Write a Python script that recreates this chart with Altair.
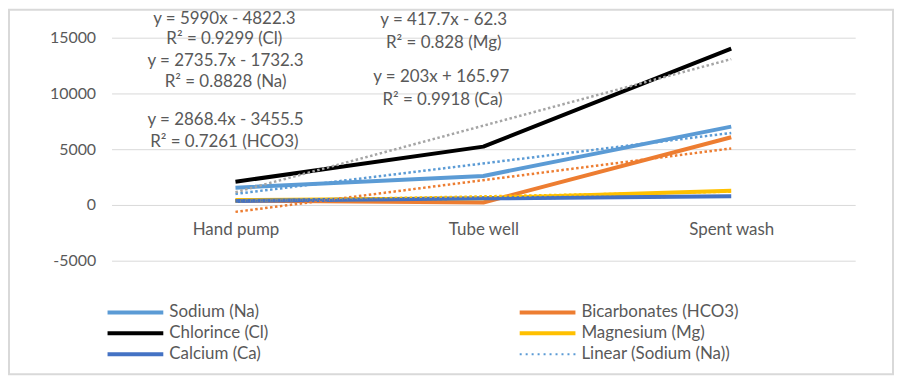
import json
import altair as alt
import pandas as pd

# ---------------- data ----------------
SITES = ["Hand pump", "Tube well", "Spent wash"]
SERIES = ["Sodium (Na)", "Bicarbonates (HCO3)", "Chlorince (Cl)", "Magnesium (Mg)", "Calcium (Ca)"]
SODIUM = [1550, 2600, 7020]
BICARBONATES = [380, 220, 6070]
CHLORINE = [2080, 5230, 14020]
MAGNESIUM = [440, 600, 1275]
CALCIUM = [360, 590, 770]

EQUATIONS = [
    "y = 5990x - 4822.3", "R² = 0.9299 (Cl)",
    "y = 2735.7x - 1732.3", "R² = 0.8828 (Na)",
    "y = 2868.4x - 3455.5", "R² = 0.7261 (HCO3)",
    "y = 417.7x - 62.3", "R² = 0.828 (Mg)",
    "y = 203x + 165.97", "R² = 0.9918 (Ca)",
]
EQ_X = [0.955, 0.955, 0.96, 0.96, 0.96, 0.955, 1.84, 1.84, 1.83, 1.835]
EQ_Y = [16700, 14870, 12880, 10980, 7600, 5650, 16600, 14550, 11450, 9450]

LEGEND = SERIES + ["Linear (Sodium (Na))"]

SERIES_COLORS = ["#5B9BD5", "#ED7D31", "#000000", "#FFC000", "#4472C4"]
TREND_COLORS = ["#5B9BD5", "#ED7D31", "#A5A5A5", "#FFC000", "#4472C4"]

TEXT = "#595959"
GRID = "#D9D9D9"
FONT = "Lato"

# ---------------- tables ----------------
values = [SODIUM, BICARBONATES, CHLORINE, MAGNESIUM, CALCIUM]
rows = []
for s, vals in zip(SERIES, values):
    for i, (site, v) in enumerate(zip(SITES, vals)):
        rows.append({"series": s, "site": site, "idx": i + 1, "value": v})
df = pd.DataFrame(rows)

eq_df = pd.DataFrame({"label": EQUATIONS, "ax": EQ_X, "ay": EQ_Y})
leg_df = pd.DataFrame({"name": LEGEND, "i": list(range(len(LEGEND)))})

trend_keys = ["Linear (" + s + ")" for s in SERIES]
color_scale = alt.Scale(domain=SERIES + trend_keys, range=SERIES_COLORS + TREND_COLORS)

x_scale = alt.Scale(domain=[0.5, 3.5], nice=False, zero=False)
y_scale = alt.Scale(domain=[-5000, 15000], nice=False, zero=False)

x_axis = alt.Axis(
    values=[1, 2, 3],
    labelExpr=json.dumps(SITES) + "[datum.value - 1]",
    title=None, grid=False, domain=False, ticks=False, tickSize=0,
    offset=-56, labelPadding=17, labelFontSize=17, labelColor=TEXT, labelFont=FONT,
)
y_axis = alt.Axis(
    values=[-5000, 0, 5000, 10000, 15000], labelExpr="'' + datum.value",
    title=None, grid=True, gridColor=GRID, gridWidth=1, domain=False, ticks=False,
    tickSize=0, labelPadding=16, labelFontSize=16, labelColor=TEXT, labelFont=FONT,
)


def xq(field):
    return alt.X(field, type="quantitative", scale=x_scale, axis=x_axis)


def yq(field):
    return alt.Y(field, type="quantitative", scale=y_scale, axis=y_axis)


base = alt.Chart(df)

lines = base.mark_line(strokeWidth=4, strokeCap="butt", strokeJoin="round").encode(
    x=xq("idx"),
    y=yq("value"),
    color=alt.Color("series:N", scale=color_scale, legend=None),
    order="idx:Q",
)

trends = base.transform_regression(
    "idx", "value", groupby=["series"], method="linear"
).transform_calculate(
    key='"Linear (" + datum.series + ")"'
).mark_line(strokeWidth=2.5, strokeDash=[2.5, 2.5], strokeCap="butt").encode(
    x=xq("idx"),
    y=yq("value"),
    color=alt.Color("key:N", scale=color_scale, legend=None),
)

labels = alt.Chart(eq_df).mark_text(
    fontSize=17, font=FONT, color=TEXT, align="center", baseline="middle"
).encode(
    x=xq("ax"),
    y=yq("ay"),
    text="label:N",
)

leg_base = alt.Chart(leg_df).transform_calculate(
    col="datum.i % 2", row="floor(datum.i / 2)"
).transform_calculate(
    lx="-4 + datum.col * 414", ly="276 + datum.row * 21"
).transform_calculate(
    lx2="datum.lx + 56", tx="datum.lx + 62"
)

leg_solid = leg_base.transform_filter(
    alt.FieldOneOfPredicate(field="name", oneOf=SERIES)
).mark_rule(strokeWidth=4, strokeCap="butt").encode(
    x=alt.X("lx:Q", scale=None),
    x2="lx2:Q",
    y=alt.Y("ly:Q", scale=None),
    color=alt.Color("name:N", scale=color_scale, legend=None),
)
leg_dot = leg_base.transform_filter(
    alt.FieldOneOfPredicate(field="name", oneOf=trend_keys)
).mark_rule(strokeWidth=2, strokeDash=[2, 4], strokeCap="butt").encode(
    x=alt.X("lx:Q", scale=None),
    x2="lx2:Q",
    y=alt.Y("ly:Q", scale=None),
    color=alt.Color("name:N", scale=color_scale, legend=None),
)
leg_text = leg_base.mark_text(
    fontSize=17, font=FONT, color=TEXT, align="left", baseline="middle"
).encode(
    x=alt.X("tx:Q", scale=None),
    y=alt.Y("ly:Q", scale=None),
    text="name:N",
)

border = alt.Chart(pd.DataFrame({"k": [0]})).mark_rect(
    fill=None, stroke=GRID, strokeWidth=2
).encode(
    x=alt.value(-103), x2=alt.value(785), y=alt.value(-28), y2=alt.value(338)
)

chart = alt.layer(
    lines, trends, labels, leg_solid, leg_dot, leg_text, border
).properties(
    width=747, height=224,
    autosize=alt.AutoSizeParams(type="none"),
    padding={"left": 104, "top": 29, "right": 39, "bottom": 115},
    background="white",
).configure_view(stroke=None)

chart.save("out.html", embed_options={"renderer": "svg", "actions": False})
